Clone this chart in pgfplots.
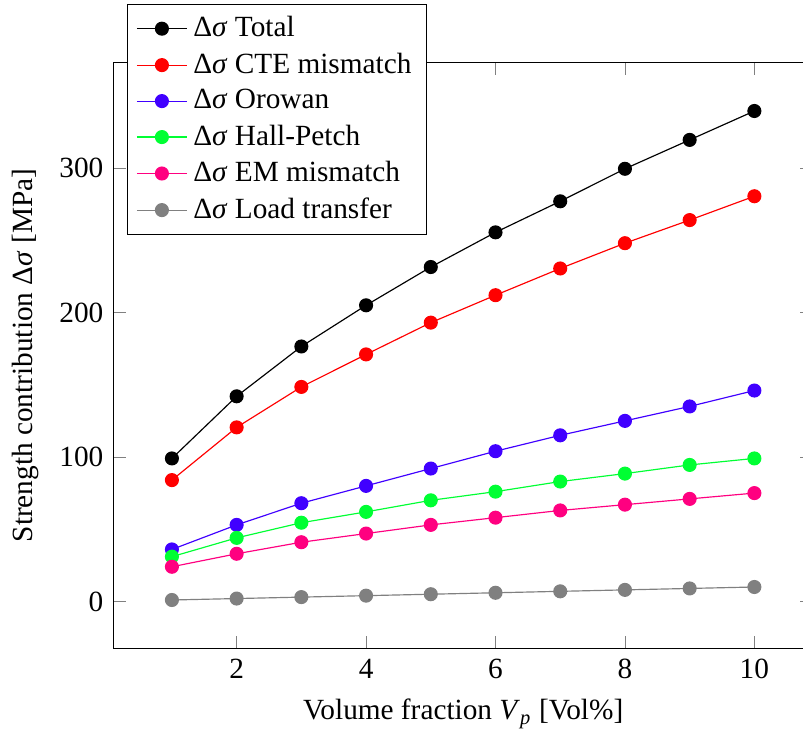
\documentclass[border=0pt]{standalone}
\usepackage{fontspec}
\setmainfont{Liberation Serif}
\usepackage{pgfplots}
\pgfplotsset{compat=1.18}

\definecolor{orowan}{RGB}{64,0,255}
\definecolor{hallpetch}{RGB}{0,255,51}
\definecolor{emmis}{RGB}{255,0,128}
\definecolor{loadtr}{RGB}{128,128,128}

\newcommand{\ds}{\textup{Δ}\textit{σ}}

\begin{document}
\begin{tikzpicture}
\begin{axis}[
  scale only axis,
  width=238.6pt, height=200.3pt,
  /pgf/number format/assume math mode=true,
  xlabel={Volume fraction \textit{V}\textsubscript{\textit{p}} [Vol\%]},
  ylabel={Strength contribution \ds{} [MPa]},
  xtick={2,4,6,8,10},
  ytick={0,100,200,300},
  legend style={at={(0.019,1.099)}, anchor=north west, font=\normalsize},
  legend cell align=left,
  every axis plot/.append style={mark=*, mark size=2.2pt},
]
\addplot[black, mark options={fill=black}] coordinates {
  (1,99) (2,142) (3,176.5) (4,205) (5,231.5) (6,255.5) (7,277) (8,299.5) (9,319.5) (10,339.5)};
\addlegendentry{\ds{} Total}
\addplot[red, mark options={fill=red}] coordinates {
  (1,84) (2,120.5) (3,148.5) (4,171) (5,193) (6,212) (7,230.5) (8,248) (9,264) (10,280.5)};
\addlegendentry{\ds{} CTE mismatch}
\addplot[orowan, mark options={fill=orowan}] coordinates {
  (1,36) (2,53) (3,68) (4,80) (5,92) (6,104) (7,115) (8,125) (9,135) (10,146)};
\addlegendentry{\ds{} Orowan}
\addplot[hallpetch, mark options={fill=hallpetch}] coordinates {
  (1,31) (2,44) (3,54.5) (4,62) (5,70) (6,76) (7,83) (8,88.5) (9,94.5) (10,99)};
\addlegendentry{\ds{} Hall-Petch}
\addplot[emmis, mark options={fill=emmis}] coordinates {
  (1,24) (2,33) (3,41) (4,47) (5,53) (6,58) (7,63) (8,67) (9,71) (10,75)};
\addlegendentry{\ds{} EM mismatch}
\addplot[loadtr, mark options={fill=loadtr}] coordinates {
  (1,1) (2,2) (3,3) (4,4) (5,5) (6,6) (7,7) (8,8) (9,9) (10,10)};
\addlegendentry{\ds{} Load transfer}
\end{axis}
\pgfresetboundingbox
\useasboundingbox (-38.8pt,-28.0pt) rectangle (235.3pt,221.5pt);
\end{tikzpicture}
\end{document}
